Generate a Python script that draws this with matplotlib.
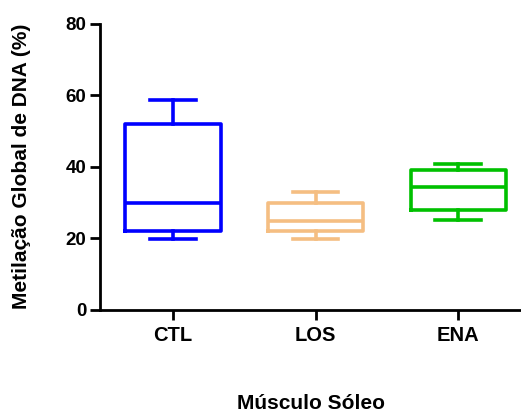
import matplotlib.pyplot as plt

plt.rcParams['font.family'] = ['Liberation Sans', 'DejaVu Sans']
plt.rcParams['font.weight'] = 'bold'

grupos = ['CTL', 'LOS', 'ENA']
minimo = [19.9, 19.9, 25.1]
q1 = [22.1, 22.1, 28.0]
mediana = [29.9, 24.8, 34.3]
q3 = [52.0, 30.0, 39.0]
maximo = [58.7, 33.0, 40.8]
cores = ['#0000ff', '#f5be82', '#00c000']

stats = []
for g, lo, a, m, b, hi in zip(grupos, minimo, q1, mediana, q3, maximo):
    stats.append({'label': g, 'whislo': lo, 'q1': a, 'med': m, 'q3': b, 'whishi': hi})

fig = plt.figure(figsize=(5.21, 4.17), dpi=100)
ax = fig.add_axes([0.192, 0.257, 0.808, 0.686])

for i, (s, c) in enumerate(zip(stats, cores)):
    ax.bxp([s], positions=[i + 1], widths=0.667, capwidths=0.32, showfliers=False,
           boxprops=dict(color=c, linewidth=2.6),
           medianprops=dict(color=c, linewidth=2.6),
           whiskerprops=dict(color=c, linewidth=2.6),
           capprops=dict(color=c, linewidth=2.6))

ax.set_xlim(0.488, 3.44)
ax.set_ylim(0, 80)
ax.set_yticks([0, 20, 40, 60, 80])
ax.set_xticks([1, 2, 3])
ax.set_xticklabels(grupos)
ax.spines['top'].set_visible(False)
ax.spines['right'].set_visible(False)
ax.spines['left'].set_linewidth(2)
ax.spines['bottom'].set_linewidth(2)
ax.tick_params(width=2, length=7)
ax.tick_params(axis='y', labelsize=13.5, pad=3)
ax.tick_params(axis='x', labelsize=14.5, pad=5)
for t in ax.get_xticklabels() + ax.get_yticklabels():
    t.set_fontweight('bold')

ax.set_ylabel('Metilação Global de DNA (%)', fontsize=15, fontweight='bold')
ax.yaxis.set_label_coords(-0.165, 0.5)
fig.text(0.596, 0.018, 'Músculo Sóleo', ha='center', fontsize=15, fontweight='bold')

fig.savefig('out.png', dpi=100)
